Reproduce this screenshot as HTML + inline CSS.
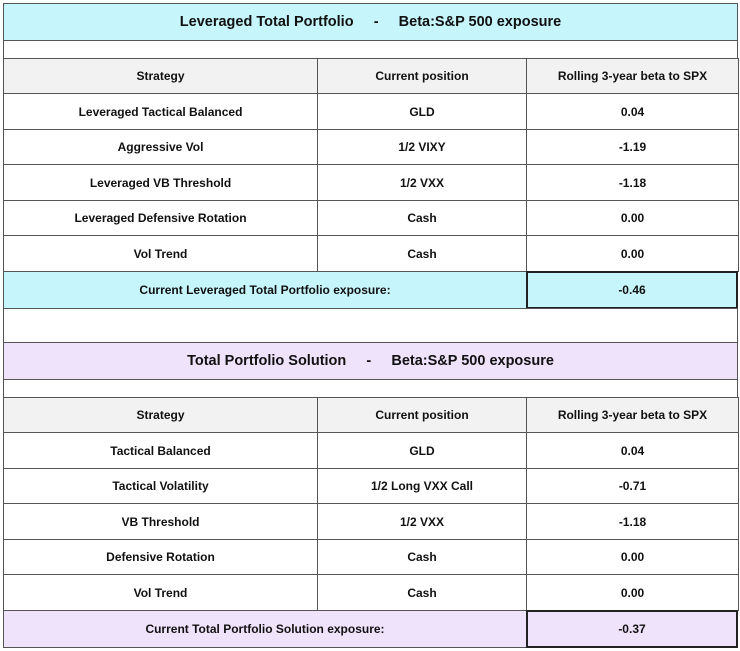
<!DOCTYPE html>
<html><head><style>
body{margin:0;width:740px;height:651px;background:#fff;font-family:"Liberation Sans",sans-serif;font-weight:bold;font-size:12px;color:#111;position:relative;overflow:hidden}
.c{position:absolute;display:flex;align-items:center;justify-content:center;box-sizing:border-box;border:1px solid #555}
</style></head><body>
<script>
function cell(x,y,w,h,t,bg,extra){const d=document.createElement('div');d.className='c';d.style.cssText=`left:${x}px;top:${y}px;width:${w}px;height:${h}px;background:${bg||'#fff'};${extra||''}`;d.innerHTML=t;document.body.appendChild(d);}
const X=[3,317,526,738];
function block(y0,title,tbg,rows,total,val,bg){
 cell(3,y0,735,38,title,tbg,'font-size:14.5px');
 cell(3,y0+37,735,19,'', '#fff');
 let y=y0+55;
 const hdr=['Strategy','Current position','Rolling 3-year beta to SPX'];
 for(let i=0;i<3;i++)cell(X[i],y,X[i+1]-X[i]+1,36,hdr[i],'#f2f2f2');
 y+=35;
 const hs=[36,35,36,35,36];
 rows.forEach((row,k)=>{for(let i=0;i<3;i++)cell(X[i],y,X[i+1]-X[i]+1,hs[k]+1,row[i],'#fff');y+=hs[k];});
 cell(3,y,524,38,total,bg);
 cell(526,y,212,38,val,bg,'border:2px solid #222');
 return y+38;
}
block(3,'Leveraged Total Portfolio&nbsp;&nbsp;&nbsp;&nbsp;&nbsp;-&nbsp;&nbsp;&nbsp;&nbsp;&nbsp;Beta:S&amp;P 500 exposure','#c6f5fb',
[['Leveraged Tactical Balanced','GLD','0.04'],['Aggressive Vol','1/2 VIXY','-1.19'],['Leveraged VB Threshold','1/2 VXX','-1.18'],['Leveraged Defensive Rotation','Cash','0.00'],['Vol Trend','Cash','0.00']],
'Current Leveraged Total Portfolio exposure:','-0.46','#c6f5fb');
cell(3,308,735,35,'','#fff');
block(342,'Total Portfolio Solution&nbsp;&nbsp;&nbsp;&nbsp;&nbsp;-&nbsp;&nbsp;&nbsp;&nbsp;&nbsp;Beta:S&amp;P 500 exposure','#efe3fb',
[['Tactical Balanced','GLD','0.04'],['Tactical Volatility','1/2 Long VXX Call','-0.71'],['VB Threshold','1/2 VXX','-1.18'],['Defensive Rotation','Cash','0.00'],['Vol Trend','Cash','0.00']],
'Current Total Portfolio Solution exposure:','-0.37','#efe3fb');
</script>
</body></html>
